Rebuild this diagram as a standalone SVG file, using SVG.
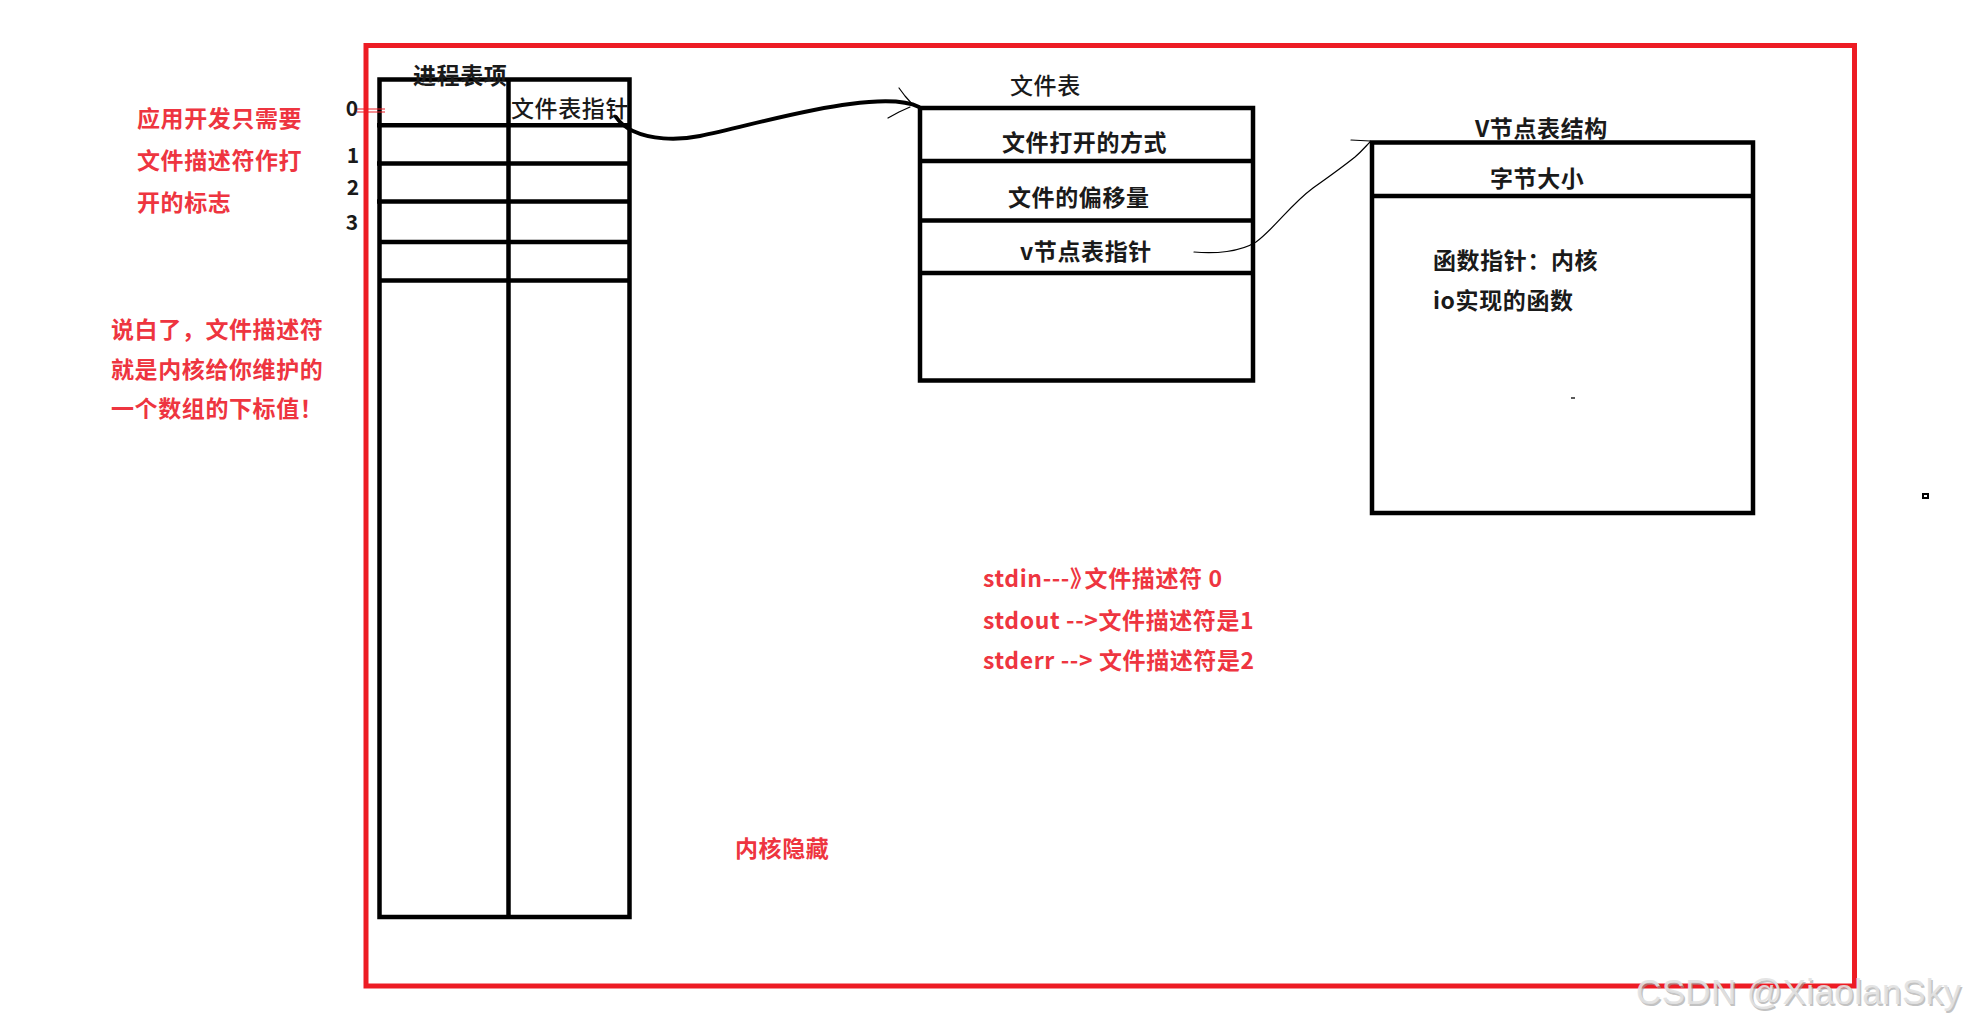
<svg xmlns="http://www.w3.org/2000/svg" width="1965" height="1026" viewBox="0 0 1965 1026">
<style>
.box{fill:none;stroke:#000;stroke-width:4.5}
.ln{stroke:#000;stroke-width:4.5;fill:none}
.t{font-family:"Noto Sans CJK SC","Noto Sans",sans-serif;font-size:23px;letter-spacing:0.6px;fill:#1a1a1a;font-weight:700}
.r{font-family:"Noto Sans CJK SC","Noto Sans",sans-serif;font-size:23px;letter-spacing:0.6px;fill:#ee3540;font-weight:700}
.n{font-family:"Noto Sans CJK SC","Noto Sans",sans-serif;font-size:21px;fill:#1a1a1a;font-weight:700;text-anchor:middle}
.thin{fill:none;stroke:#000;stroke-width:1.2;stroke-linecap:round;stroke-linejoin:round}
</style>
<rect width="1965" height="1026" fill="#fff"/>
<g id="kernel-frame">
<rect x="366" y="45.5" width="1488.5" height="940.5" fill="none" stroke="#ed1c24" stroke-width="5"/>
</g>
<g id="process-table">
<rect class="box" x="379.5" y="79.5" width="250" height="837.5"/>
<line class="ln" x1="508.5" y1="79.5" x2="508.5" y2="917"/>
<line class="ln" x1="377" y1="125.3" x2="629.5" y2="125.3"/>
<line class="ln" x1="377" y1="163.5" x2="629.5" y2="163.5"/>
<line class="ln" x1="377" y1="201.5" x2="629.5" y2="201.5"/>
<line class="ln" x1="379.5" y1="242" x2="629.5" y2="242"/>
<line class="ln" x1="379.5" y1="280.5" x2="629.5" y2="280.5"/>
<text class="t" x="413" y="83.5">进程表项</text>
<text class="t" x="511" y="116.5" style="font-weight:500">文件表指针</text>
<text class="n" x="352" y="115.5">0</text>
<text class="n" x="353" y="162.5">1</text>
<text class="n" x="353" y="194.5">2</text>
<text class="n" x="352" y="229.5">3</text>
<line x1="357" y1="109" x2="385" y2="109" stroke="#ed1c24" stroke-width="1"/>
<line x1="357" y1="112" x2="385" y2="112" stroke="#ed1c24" stroke-width="1"/>
</g>
<g id="file-table">
<rect class="box" x="920" y="108" width="333" height="272.5"/>
<line class="ln" x1="920" y1="161" x2="1253" y2="161"/>
<line class="ln" x1="920" y1="220.5" x2="1253" y2="220.5"/>
<line class="ln" x1="920" y1="273" x2="1253" y2="273"/>
<text class="t" x="1010" y="93.5" style="font-weight:500">文件表</text>
<text class="t" x="1002" y="150.5">文件打开的方式</text>
<text class="t" x="1008" y="205.5">文件的偏移量</text>
<text class="t" x="1020" y="259.5">v节点表指针</text>
</g>
<g id="vnode-table">
<rect class="box" x="1372" y="142.5" width="381" height="370.5"/>
<line class="ln" x1="1372" y1="196" x2="1753" y2="196"/>
<text class="t" x="1475" y="137">V节点表结构</text>
<text class="t" x="1490" y="186.5">字节大小</text>
<text class="t" x="1433" y="268.5">函数指针：内核</text>
<text class="t" x="1433" y="308.5">io实现的函数</text>
<line x1="1571" y1="398" x2="1575" y2="398" stroke="#000" stroke-width="1.3"/>
</g>
<g id="connectors">
<path d="M616,117 Q622,126 633,131 C650,139 675,141 700,136 C740,128 800,110 850,104 C880,100 905,100 919,107" fill="none" stroke="#000" stroke-width="4" stroke-linecap="round"/>
<path class="thin" d="M899,88 L905,96 L913,105"/>
<path class="thin" d="M888,118 L899,112 L910,107"/>
<path class="thin" d="M1194,252 C1215,254 1240,252 1256,242 C1275,228 1290,205 1313,188 C1330,176 1345,165 1355,157 C1362,151 1366,146 1370,142"/>
<path class="thin" d="M1351,140 L1370,141"/>
</g>
<g id="notes">
<text class="r" x="137" y="127">应用开发只需要</text>
<text class="r" x="137" y="169">文件描述符作打</text>
<text class="r" x="137" y="210.5">开的标志</text>
<text class="r" x="111" y="337.5">说白了，文件描述符</text>
<text class="r" x="111" y="377.5">就是内核给你维护的</text>
<text class="r" x="111" y="416.5">一个数组的下标值！</text>
<text class="r" x="983" y="586.5">stdin---》<tspan dx="-9">文件描述符 0</tspan></text>
<text class="r" x="983" y="628.5">stdout --&gt;文件描述符是1</text>
<text class="r" x="983" y="668.5">stderr --&gt; 文件描述符是2</text>
<text class="r" x="735" y="856.5">内核隐藏</text>
</g>
<rect x="1923" y="494" width="5" height="4" fill="#fff" stroke="#000" stroke-width="2"/>
<g id="watermark" font-family="Liberation Sans, Arial, sans-serif" font-size="35">
<text x="1637.5" y="1005.5" fill="#9a9a9a" opacity="0.6" textLength="325">CSDN @XiaolanSky</text>
<text x="1636" y="1004" fill="#e2e2e2" opacity="0.9" textLength="325">CSDN @XiaolanSky</text>
</g>
</svg>
